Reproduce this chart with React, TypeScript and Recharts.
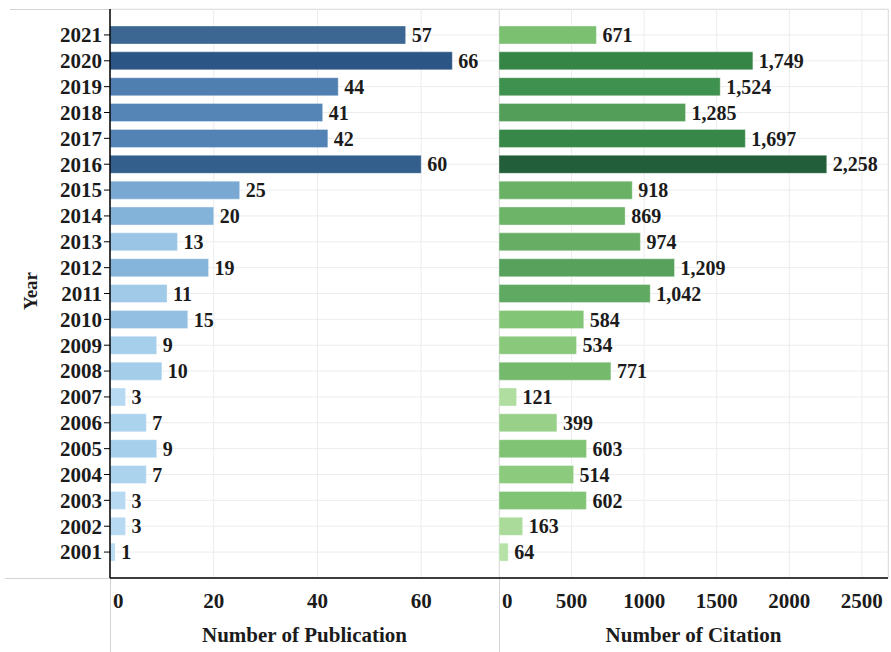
import { BarChart, Bar, XAxis, YAxis, CartesianGrid, Cell, LabelList } from 'recharts';

const years = ['2021', '2020', '2019', '2018', '2017', '2016', '2015', '2014', '2013', '2012', '2011',
  '2010', '2009', '2008', '2007', '2006', '2005', '2004', '2003', '2002', '2001'];
const publications = [57, 66, 44, 41, 42, 60, 25, 20, 13, 19, 11, 15, 9, 10, 3, 7, 9, 7, 3, 3, 1];
const citations = [671, 1749, 1524, 1285, 1697, 2258, 918, 869, 974, 1209, 1042, 584, 534, 771, 121,
  399, 603, 514, 602, 163, 64];
const publicationTicks = [0, 20, 40, 60];
const citationTicks = [0, 500, 1000, 1500, 2000, 2500];

const FONT = '"Liberation Serif", "Times New Roman", serif';
const INK = '#1b1b1b';
const GRID = '#ececec';
const FRAME = '#d4d4d4';

// colour ramps (fraction of max -> colour), like the sequential palettes in the source
const blueRamp: [number, string][] = [
  [0, '#bcdef4'], [0.05, '#b6daf2'], [0.15, '#a4cdea'], [0.29, '#86b5db'], [0.38, '#79a9d2'],
  [0.64, '#5182b4'], [0.86, '#3d6893'], [0.91, '#335f8c'], [1, '#2b5584'],
];
const greenRamp: [number, string][] = [
  [0, '#bae5ac'], [0.03, '#b6e2a8'], [0.07, '#aadb9b'], [0.18, '#97d089'], [0.24, '#89c87b'],
  [0.27, '#80c374'], [0.34, '#74b96c'], [0.43, '#67ae64'], [0.46, '#60a962'], [0.57, '#539e59'],
  [0.675, '#3f914f'], [0.775, '#348546'], [1, '#225e39'],
];

function hexToRgb(h: string) {
  const n = parseInt(h.slice(1), 16);
  return [(n >> 16) & 255, (n >> 8) & 255, n & 255];
}

function rampColor(ramp: [number, string][], t: number) {
  for (let i = 1; i < ramp.length; i++) {
    if (t <= ramp[i][0]) {
      const [t0, c0] = ramp[i - 1];
      const [t1, c1] = ramp[i];
      const k = (t - t0) / (t1 - t0);
      const a = hexToRgb(c0);
      const b = hexToRgb(c1);
      const c = a.map((v, j) => Math.round(v + (b[j] - v) * k));
      return `rgb(${c[0]},${c[1]},${c[2]})`;
    }
  }
  return ramp[ramp.length - 1][1];
}

const rows = years.map((year, i) => ({ year, pub: publications[i], cite: citations[i] }));
const pubMax = Math.max(...publications);
const citeMax = Math.max(...citations);

const textStyle = { fontFamily: FONT, fontWeight: 700, fill: INK };

function ValueTick(props: any) {
  const { x, payload } = props;
  const first = payload.value === 0;
  return (
    <text x={first ? x + 3 : x} y={608} textAnchor={first ? 'start' : 'middle'} fontSize={21} {...textStyle}>
      {payload.value}
    </text>
  );
}

function YearTick(props: any) {
  const { x, y, payload } = props;
  return (
    <text x={x} y={y} dy="0.35em" textAnchor="end" fontSize={21} {...textStyle}>
      {payload.value}
    </text>
  );
}

const titleLabel = (value: string) => ({
  value,
  position: 'insideBottom' as const,
  offset: 10,
  style: { fontFamily: FONT, fontWeight: 700, fontSize: 21, fill: INK },
});

export default function App() {
  return (
    <div style={{ position: 'absolute', left: 0, top: 0, width: 891, height: 652, background: '#fff' }}>
      <svg width={891} height={652} style={{ position: 'absolute', left: 0, top: 0 }}>
        <line x1={10} y1={9.5} x2={888} y2={9.5} stroke={FRAME} />
        <line x1={888.5} y1={9} x2={888.5} y2={578} stroke={FRAME} />
        <line x1={499.5} y1={9} x2={499.5} y2={652} stroke={FRAME} />
        <line x1={110.5} y1={578} x2={110.5} y2={652} stroke={FRAME} />
        <line x1={5} y1={578.5} x2={110} y2={578.5} stroke={FRAME} />
        <text transform="translate(37,291) rotate(-90)" textAnchor="middle" fontSize={19} {...textStyle}>
          Year
        </text>
      </svg>

      <div style={{ position: 'absolute', left: 0, top: 0 }}>
        <BarChart layout="vertical" width={499} height={652} data={rows}
          margin={{ top: 9, right: 0, bottom: 0, left: 0 }}>
          <CartesianGrid stroke={GRID} />
          <XAxis type="number" domain={[0, 75]} ticks={publicationTicks} height={74} interval={0}
            axisLine={{ stroke: '#000', strokeWidth: 1.5 }} tickLine={false} tick={<ValueTick />}
            label={titleLabel('Number of Publication')} />
          <YAxis type="category" dataKey="year" width={110} padding={{ top: 13, bottom: 13 }}
            axisLine={{ stroke: '#000', strokeWidth: 1.5 }} tickLine={{ stroke: '#000' }} tickSize={6}
            tick={<YearTick />} interval={0} />
          <Bar dataKey="pub" barSize={18} isAnimationActive={false} stroke="rgba(255,255,255,0.35)">
            {rows.map((r, i) => (
              <Cell key={`p-${i}`} fill={rampColor(blueRamp, r.pub / pubMax)} />
            ))}
            <LabelList dataKey="pub" position="right" offset={6} fontSize={20} {...textStyle} />
          </Bar>
        </BarChart>
      </div>

      <div style={{ position: 'absolute', left: 499, top: 0 }}>
        <BarChart layout="vertical" width={392} height={652} data={rows}
          margin={{ top: 9, right: 3, bottom: 0, left: 0 }}>
          <CartesianGrid stroke={GRID} />
          <XAxis type="number" domain={[0, 2680]} ticks={citationTicks} height={74} interval={0}
            axisLine={{ stroke: '#000', strokeWidth: 1.5 }} tickLine={false} tick={<ValueTick />}
            label={titleLabel('Number of Citation')} />
          <YAxis type="category" dataKey="year" hide padding={{ top: 13, bottom: 13 }} />
          <Bar dataKey="cite" barSize={18} isAnimationActive={false} stroke="rgba(255,255,255,0.35)">
            {rows.map((r, i) => (
              <Cell key={`c-${i}`} fill={rampColor(greenRamp, r.cite / citeMax)} />
            ))}
            <LabelList dataKey="cite" position="right" offset={6} fontSize={20} {...textStyle}
              formatter={(v: any) => Number(v).toLocaleString('en-US')} />
          </Bar>
        </BarChart>
      </div>
    </div>
  );
}
